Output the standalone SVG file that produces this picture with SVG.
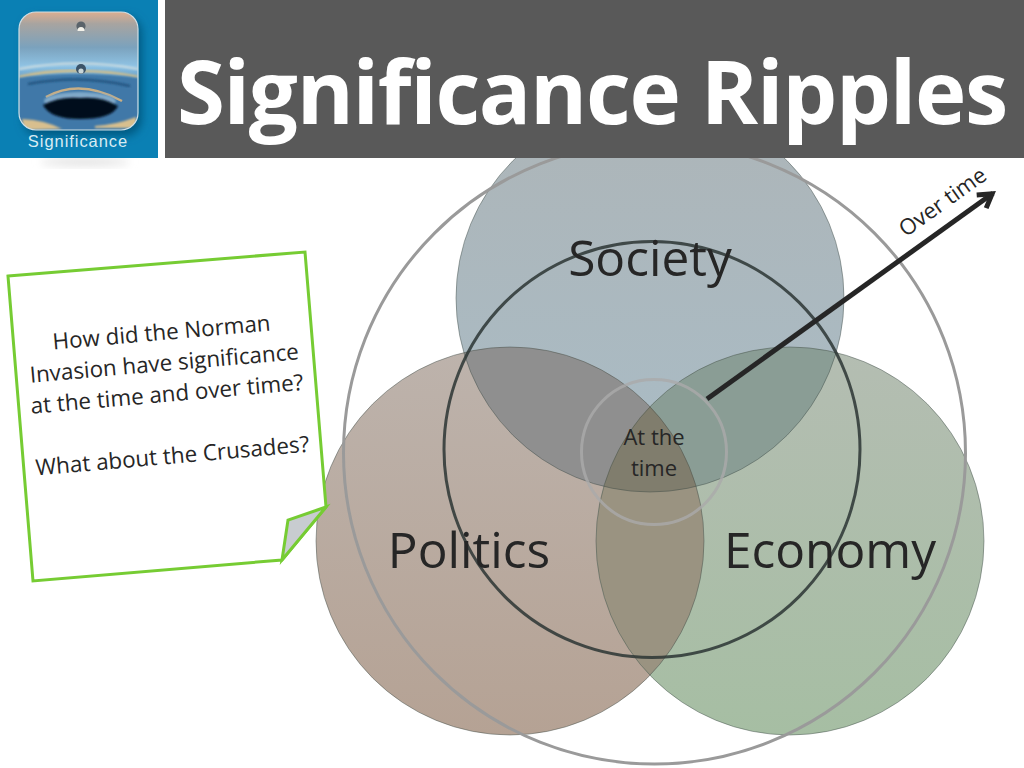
<svg xmlns="http://www.w3.org/2000/svg" width="1024" height="768" viewBox="0 0 1024 768">
<style>
text{font-family:"Open Sans","Noto Sans","DejaVu Sans",sans-serif;fill:#262626}
.v{fill:none;stroke:#3c4a45;stroke-opacity:.45;stroke-width:1}
.q{font-size:22.4px}
.big{font-size:49.6px}
.sm{font-size:22px}
</style>
<defs>
<linearGradient id="sky" x1="0" y1="0" x2="0" y2="1">
<stop offset="0" stop-color="#dcae90"/><stop offset=".1" stop-color="#a8a4a0"/><stop offset=".3" stop-color="#7ba2bd"/><stop offset=".46" stop-color="#8fc3e4"/><stop offset=".62" stop-color="#4f8ab8"/><stop offset="1" stop-color="#3f7eac"/>
</linearGradient>
<linearGradient id="gS" x1="0" y1="0" x2="0" y2="1"><stop offset="0" stop-color="#adb5b8"/><stop offset="1" stop-color="#a9bcc6"/></linearGradient>
<linearGradient id="gP" x1="0" y1="0" x2="0" y2="1"><stop offset="0" stop-color="#bdb3ac"/><stop offset="1" stop-color="#b5a294"/></linearGradient>
<linearGradient id="gE" x1="0" y1="0" x2="0" y2="1"><stop offset="0" stop-color="#b4bdb2"/><stop offset="1" stop-color="#a6bea3"/></linearGradient>
<filter id="bl" x="-30%" y="-30%" width="160%" height="160%"><feGaussianBlur stdDeviation="4"/></filter>
<filter id="b1" x="-30%" y="-30%" width="160%" height="160%"><feGaussianBlur stdDeviation="1.1"/></filter>
<filter id="b2" x="-30%" y="-30%" width="160%" height="160%"><feGaussianBlur stdDeviation=".6"/></filter>
<marker id="ah" markerUnits="userSpaceOnUse" markerWidth="30" markerHeight="30" refX="20.9" refY="12" orient="auto" viewBox="0 0 24 24"><path d="M9.5 5.5 L20 12 L9.5 18.5" fill="none" stroke="#262626" stroke-width="4"/></marker>
<clipPath id="ic"><rect x="19" y="12" width="119" height="118" rx="17"/></clipPath>
<clipPath id="cS"><circle cx="650" cy="298" r="194"/></clipPath>
<clipPath id="cP"><circle cx="510" cy="541" r="194"/></clipPath>
<clipPath id="cE"><circle cx="790" cy="541" r="194"/></clipPath>
</defs>
<rect width="1024" height="768" fill="#fff"/>
<g id="society"><circle cx="650" cy="298" r="194" fill="url(#gS)"/></g>
<g id="politics"><circle cx="510" cy="541" r="194" fill="url(#gP)"/></g>
<g id="economy"><circle cx="790" cy="541" r="194" fill="url(#gE)"/></g>
<g id="overlaps">
<g clip-path="url(#cS)"><rect x="316" y="340" width="388" height="160" fill="#8f8f8f" clip-path="url(#cP)"/><rect x="596" y="340" width="388" height="160" fill="#8a9d95" clip-path="url(#cE)"/></g>
<g clip-path="url(#cP)"><rect x="596" y="340" width="120" height="400" fill="#9a9381" clip-path="url(#cE)"/></g>
<g clip-path="url(#cS)"><g clip-path="url(#cP)"><rect x="596" y="340" width="120" height="160" fill="#807d6d" clip-path="url(#cE)"/></g></g>
<circle class="v" cx="650" cy="298" r="194"/><circle class="v" cx="510" cy="541" r="194"/><circle class="v" cx="790" cy="541" r="194"/>
</g>
<g id="ring-outer"><circle cx="654.5" cy="453" r="311" fill="none" stroke="#9a9a9a" stroke-width="3"/></g>
<g id="ring-middle"><circle cx="652" cy="449.5" r="208" fill="none" stroke="#2b3534" stroke-width="3" stroke-opacity=".85"/></g>
<g id="ring-inner"><circle cx="654" cy="452" r="72.5" fill="none" stroke="#aaa" stroke-width="3" stroke-opacity=".8"/></g>
<g id="header">
<ellipse cx="85" cy="162" rx="45" ry="4" fill="#e2e2e2" filter="url(#bl)"/>
<rect x="0" y="0" width="158" height="158" fill="#0a80b4"/>
<rect x="165" y="0" width="859" height="158" fill="#595959"/>
<text x="592" y="124" text-anchor="middle" font-size="87" font-weight="700" letter-spacing="-1.3" style="fill:#fff">Significance Ripples</text>
</g>
<g id="icon">
<rect x="23" y="16" width="119" height="120" rx="17" fill="#045a82" filter="url(#bl)"/>
<g clip-path="url(#ic)">
<rect x="19" y="12" width="119" height="118" fill="url(#sky)"/>
<path d="M19 69 Q78 58 138 69" fill="none" stroke="#cfdde0" stroke-width="2" filter="url(#b1)"/>
<path d="M19 77 Q50 70 78 71 Q110 71 138 77" fill="none" stroke="#d5bf88" stroke-width="2.5" filter="url(#b1)"/>
<path d="M19 78 Q78 70 138 78 L138 130 L19 130 Z" fill="#3f78a8" filter="url(#b1)"/>
<path d="M46 97 Q80 78 122 101" fill="none" stroke="#c8ae85" stroke-width="2.5" filter="url(#b2)"/>
<path d="M28 84 Q80 74 130 86" fill="none" stroke="#1f4f7a" stroke-width="2" filter="url(#b1)"/>
<ellipse cx="80" cy="101" rx="36" ry="9" fill="#7fa9c9" filter="url(#b1)"/>
<path d="M43 105 Q60 96 80 98 Q102 96 118 106 Q112 119 80 119 Q50 119 43 105 Z" fill="#050c1c" filter="url(#b1)"/>
<path d="M22 119 Q45 120 62 129 L24 130 Z" fill="#d8bf8e" filter="url(#b1)"/>
<path d="M95 126 Q115 125 136 117 L136 128 L95 128 Z" fill="#d8bf8e" filter="url(#b1)"/>
<path d="M82 78 L82 100" stroke="#2a4f6e" stroke-width="4" filter="url(#b2)"/>
<circle cx="81" cy="69" r="5" fill="#3a5268" filter="url(#b2)"/><circle cx="81" cy="71" r="2.6" fill="#c9d6d8"/>
<circle cx="81" cy="26" r="4.6" fill="#5a646b" filter="url(#b2)"/><path d="M77.5 31 a3.5 4 0 0 1 7 0 Z" fill="#f4f2ea"/>
</g>
<rect x="19" y="12" width="119" height="118" rx="17" fill="none" stroke="#cfdfe6" stroke-width="1.2"/>
<text x="78" y="147" text-anchor="middle" font-size="16.5" style="fill:#d8ecf3;font-family:'Liberation Sans',sans-serif" letter-spacing=".95">Significance</text>
</g>
<g id="connectors"><line x1="707" y1="399" x2="993" y2="193.2" stroke="#262626" stroke-width="5" marker-end="url(#ah)"/></g>
<g id="labels">
<text class="big" x="650" y="276" text-anchor="middle">Society</text>
<text class="big" x="469" y="568" text-anchor="middle">Politics</text>
<text class="big" x="830" y="568" text-anchor="middle">Economy</text>
<text class="sm" x="654" y="445" text-anchor="middle">At the</text>
<text class="sm" x="654" y="476" text-anchor="middle">time</text>
<text transform="translate(947 208) rotate(-35.5)" text-anchor="middle" font-size="22">Over time</text>
</g>
<g id="note">
<path d="M8 276 L305 252 L326 507 L282 560 L33 581 Z" fill="#fff" stroke="#76cc33" stroke-width="3"/>
<path d="M326 507 L288 520 L282 560 Z" fill="#c8ccd0" stroke="#76cc33" stroke-width="3"/>
<g transform="rotate(-5 165 395)" text-anchor="middle">
<text class="q" x="167" y="340">How did the Norman</text>
<text class="q" x="167" y="371">Invasion have significance</text>
<text class="q" x="167" y="402">at the time and over time?</text>
<text class="q" x="167" y="464">What about the Crusades?</text>
</g>
</g>
</svg>
